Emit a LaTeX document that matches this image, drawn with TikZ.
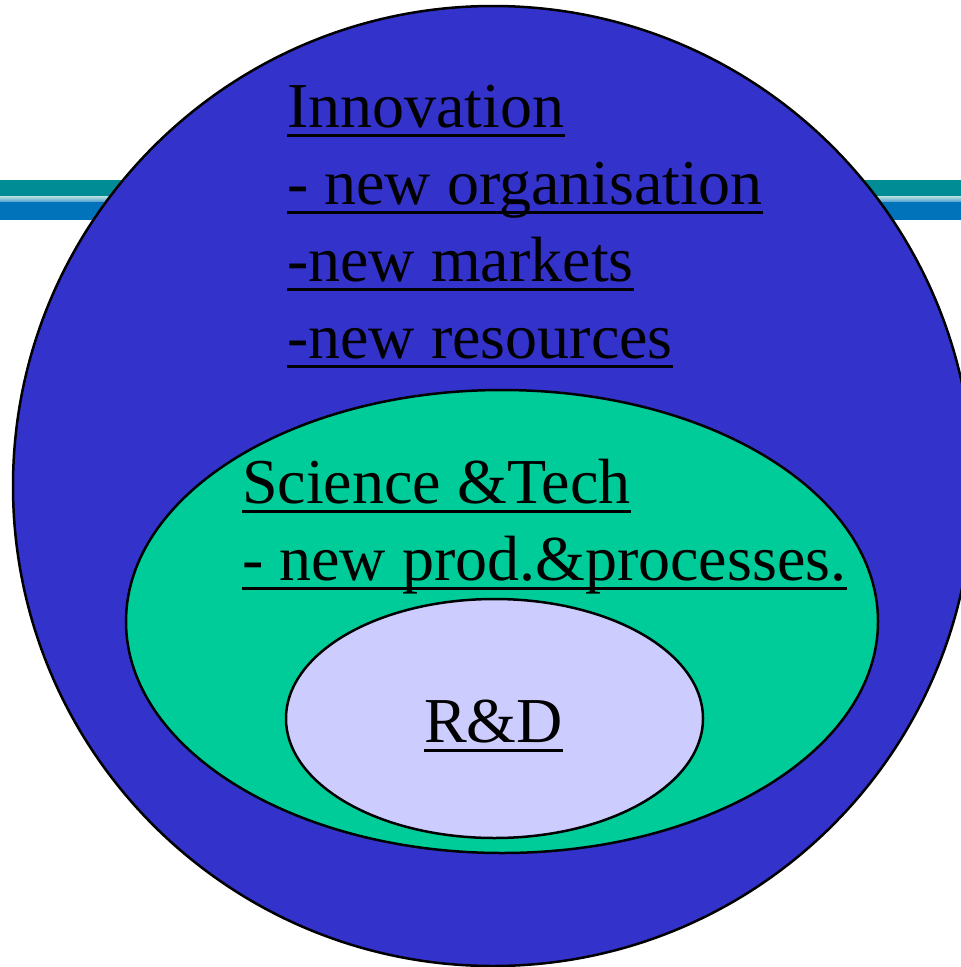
\documentclass[tikz,border=0pt]{standalone}
\usepackage{fontspec}
\setmainfont{Liberation Serif}
\usetikzlibrary{positioning}

\definecolor{barteal}{HTML}{008C95}
\definecolor{barblue}{HTML}{0073BA}
\definecolor{innoblue}{HTML}{3333CC}
\definecolor{scigreen}{HTML}{00CC99}
\definecolor{rdlilac}{HTML}{CCCCFF}

\begin{document}
\begin{tikzpicture}[x=1pt, y=-1pt,
    zone/.style={draw=black, line width=2.5pt},
    txt/.style={anchor=base west, inner sep=0pt, font=\fontsize{64}{77}\selectfont},
    uline/.style={line width=3pt}
]
\useasboundingbox (0,0) rectangle (961,967);

% Header bar
\fill[barteal] (0,180) rectangle (961,196.5);
\shade[top color=barteal!30!white, bottom color=barblue!70!white] (0,196.5) rectangle (961,202);
\fill[barblue] (0,202) rectangle (961,220);

% Zones
\fill[innoblue, zone] (493,486) circle [radius=480];
\fill[scigreen, zone] (502,621.5) ellipse [x radius=376, y radius=231.5];
\fill[rdlilac, zone] (494.5,718.5) ellipse [x radius=208.5, y radius=119.5];

% Texts
\foreach \t [count=\i] in {Innovation, - new organisation, -new markets, -new resources}
  \node[txt] (inno\i) at (287,127+77*\i-77) {\t};
\node[txt] (sci1) at (242,503) {Science \&Tech};
\node[txt] (sci2) at (242,580) {- new prod.\&processes.};
\node[txt] (rd) at (424,742) {R\&D};

% Underlines
\foreach \n in {inno1, inno2, inno3, inno4, sci1, sci2, rd}
  \draw[uline] ([yshift=-8pt]\n.base west) -- ([yshift=-8pt]\n.base east);

\end{tikzpicture}
\end{document}
